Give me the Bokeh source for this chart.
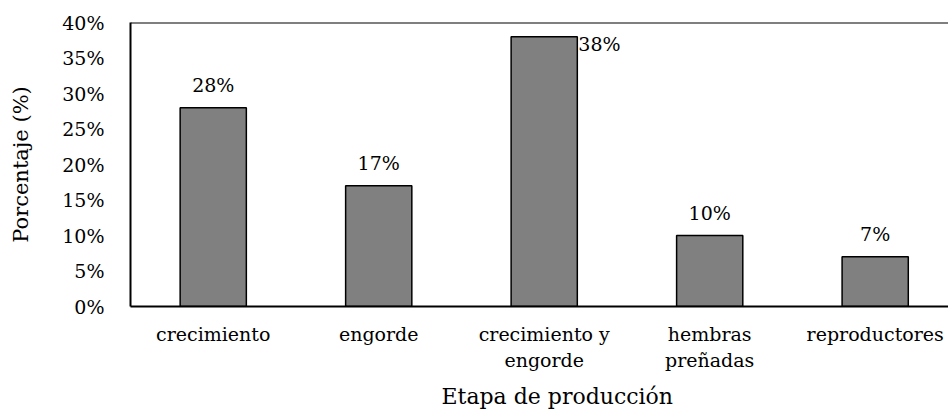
from bokeh.plotting import figure
from bokeh.models import Range1d, FixedTicker, PrintfTickFormatter, Span, ColumnDataSource, Title
from bokeh.core.properties import value
from bokeh.embed import file_html
from bokeh.resources import INLINE

categories = ["crecimiento", "engorde", "crecimiento y\nengorde", "hembras\npreñadas", "reproductores"]
percentages = [28, 17, 38, 10, 7]
y_ticks = [0, 5, 10, 15, 20, 25, 30, 35, 40]

FONT = "DejaVu Serif"
FS = "19px"

xs = list(range(len(categories)))
src = ColumnDataSource(dict(x=xs, top=percentages))

p = figure(frame_width=818, frame_height=284, output_backend="svg", toolbar_location=None,
           x_range=Range1d(-0.5, 4.443), y_range=Range1d(0, 40),
           min_border_left=130, min_border_top=22, min_border_right=0, min_border_bottom=0)
p.outline_line_color = None
p.xgrid.visible = False
p.ygrid.visible = False
p.background_fill_color = "white"
p.border_fill_color = "white"

p.vbar(x="x", top="top", width=0.4, source=src, fill_color="#808080", line_color="black", line_width=1.5)

# data labels: all above bar except the tallest one, placed to the right of its top
idx_side = percentages.index(max(percentages))
above = ColumnDataSource(dict(x=[xs[i] for i in xs if i != idx_side],
                              y=[percentages[i] for i in xs if i != idx_side],
                              t=[f"{percentages[i]}%" for i in xs if i != idx_side]))
p.text(x="x", y="y", text="t", source=above, text_align="center", text_baseline="middle",
       y_offset=-23, text_font=value(FONT), text_font_size=FS, text_color="black")
side = ColumnDataSource(dict(x=[xs[idx_side] + 0.2], y=[percentages[idx_side]],
                             t=[f"{percentages[idx_side]}%"]))
p.text(x="x", y="y", text="t", source=side, text_align="left", text_baseline="middle",
       x_offset=1, y_offset=7, text_font=value(FONT), text_font_size=FS, text_color="black")

p.add_layout(Span(location=40, dimension="width", line_color="black", line_width=2))

p.xaxis.ticker = FixedTicker(ticks=xs)
p.xaxis.major_label_overrides = {i: c for i, c in enumerate(categories)}
p.yaxis.ticker = FixedTicker(ticks=y_ticks)
p.yaxis.formatter = PrintfTickFormatter(format="%d%%")
p.yaxis.axis_label = "Porcentaje (%)"

for ax in (p.xaxis[0], p.yaxis[0]):
    ax.axis_line_color = "black"
    ax.axis_line_width = 2
    ax.major_tick_line_color = None
    ax.minor_tick_line_color = None
    ax.major_label_text_font = FONT
    ax.major_label_text_font_size = FS
    ax.major_label_text_color = "black"
    ax.axis_label_text_font = FONT
    ax.axis_label_text_font_size = "21px"
    ax.axis_label_text_font_style = "normal"
    ax.axis_label_text_color = "black"

p.xaxis.major_label_standoff = 10
p.yaxis.major_label_standoff = 20
p.yaxis.axis_label_standoff = 26

xtitle = Title(text="Etapa de producción", align="left", offset=311, standoff=16,
               text_font=FONT, text_font_size="22px", text_font_style="normal", text_color="black")
p.add_layout(xtitle, "below")

open("out.html", "w").write(file_html(p, INLINE))
